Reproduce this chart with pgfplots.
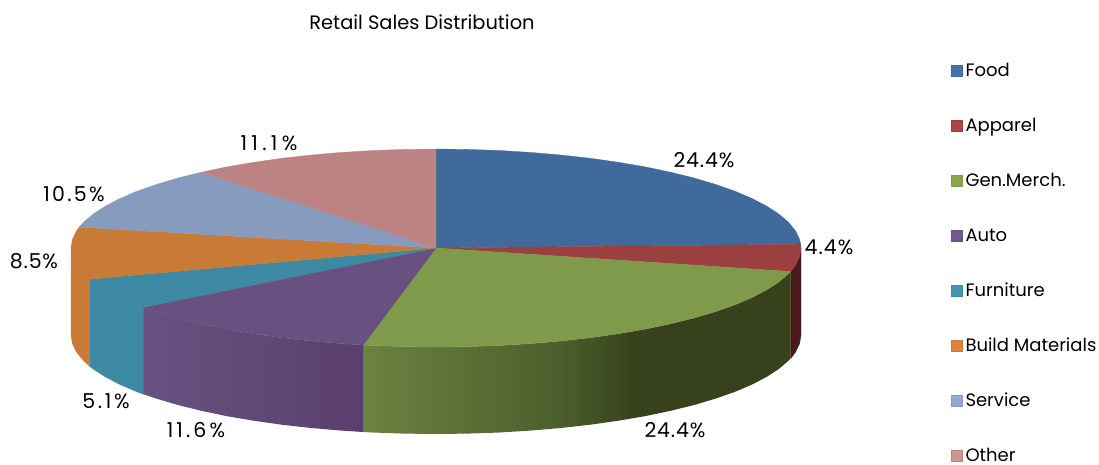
\documentclass[border=0pt]{standalone}
\usepackage{fontspec}
\setmainfont{Poppins}
\usepackage{pgfplots}
\pgfplotsset{compat=1.18}
\definecolor{cFood}{HTML}{3F6A9B}
\definecolor{cApparel}{HTML}{9B3F3F}
\definecolor{cGen}{HTML}{7F9A4A}
\definecolor{cAuto}{HTML}{685180}
\definecolor{cFurn}{HTML}{3D88A3}
\definecolor{cBuild}{HTML}{C97A36}
\definecolor{cServ}{HTML}{879BBF}
\definecolor{cOther}{HTML}{BD8383}
\definecolor{sApparel}{HTML}{4A1A1A}
\definecolor{sGenL}{HTML}{6B8240}
\definecolor{sGenA}{HTML}{5D7037}
\definecolor{sGenB}{HTML}{4D5F2D}
\definecolor{sGenR}{HTML}{37411C}
\definecolor{sAutoL}{HTML}{685180}
\definecolor{sAutoR}{HTML}{5A3F6E}
\definecolor{lFood}{HTML}{4672A8}
\definecolor{lApparel}{HTML}{AA4643}
\definecolor{lGen}{HTML}{89A54E}
\definecolor{lAuto}{HTML}{71588F}
\definecolor{lFurn}{HTML}{4198AF}
\definecolor{lBuild}{HTML}{DB843D}
\definecolor{lServ}{HTML}{93A9CF}
\definecolor{lOther}{HTML}{D19392}
% path box runs from 25bp to 75bp; gradient stops near x=640
\pgfdeclarehorizontalshading{genwall}{100bp}{color(0bp)=(sGenL); color(25bp)=(sGenL);
  color(36bp)=(sGenA); color(47.5bp)=(sGenB); color(57.4bp)=(sGenR); color(100bp)=(sGenR)}
\newcommand{\lab}{\fontsize{20.5}{22}\selectfont}
\newcommand{\ls}[2]{\addfontfeature{LetterSpace=#1}#2}
\begin{document}
\begin{tikzpicture}
\begin{axis}[
  width=1099pt, height=464pt, scale only axis,
  axis lines=none, clip=false,
  xmin=0, xmax=1099, ymin=0, ymax=464, y dir=reverse,
  legend style={at={(axis cs:951,62)}, anchor=north west, draw=none, fill=none,
    inner sep=0pt, row sep=35pt, font=\fontsize{18}{19}\selectfont,
    nodes={text height=12pt, text depth=4pt, anchor=west, inner xsep=3pt}},
  legend cell align=left,
  legend image code/.code={\fill[#1] (0pt,-3.5pt) rectangle (11pt,7.5pt);},
  every axis plot/.append style={line width=0.3pt},
]
% sides first, walls of the cylinder
\addplot[forget plot, draw=sApparel, fill=sApparel] coordinates {
  (801,248) (799.6,256.6) (795.5,265.2) (790.7,271.5)
  (790.7,358.5) (795.5,352.2) (799.6,343.6) (801,335) (801,248)};
\addplot[forget plot, draw=none, shading=genwall] coordinates {
  (363.2,345) (372.6,345.5) (404.2,346.6) (436,347) (467.8,346.6) (499.4,345.5) (530.5,343.6)
  (560.8,341) (590.3,337.7) (618.5,333.7) (645.4,329.1) (670.6,323.8) (694.1,318) (715.6,311.6)
  (735,304.8) (752.1,297.5) (766.8,289.8) (779,281.9) (788.6,273.6) (790.7,271.5)
  (790.7,358.5) (788.6,360.6) (779,368.9) (766.8,376.8) (752.1,384.5) (735,391.8) (715.6,398.6)
  (694.1,405) (670.6,410.8) (645.4,416.1) (618.5,420.7) (590.3,424.7) (560.8,428) (530.5,430.6)
  (499.4,432.5) (467.8,433.6) (436,434) (404.2,433.6) (372.6,432.5) (363.2,432) (363.2,345)};
\addplot[forget plot, draw=none, left color=sAutoL, right color=sAutoR] coordinates {
  (143.3,307.2) (156.4,311.6) (177.9,318) (201.4,323.8) (226.6,329.1) (253.5,333.7) (281.7,337.7)
  (311.2,341) (341.5,343.6) (363.2,345)
  (363.2,432) (341.5,430.6) (311.2,428) (281.7,424.7) (253.5,420.7) (226.6,416.1) (201.4,410.8)
  (177.9,405) (156.4,398.6) (143.3,394.2) (143.3,307.2)};
\addplot[forget plot, draw=cFurn, fill=cFurn] coordinates {
  (89.6,279.2) (93,281.9) (105.2,289.8) (119.9,297.5) (137,304.8) (143.3,307.2)
  (143.3,394.2) (137,391.8) (119.9,384.5) (105.2,376.8) (93,368.9) (89.6,366.2) (89.6,279.2)};
\addplot[forget plot, draw=cBuild, fill=cBuild] coordinates {
  (71,248) (72.4,256.6) (76.5,265.2) (83.4,273.6) (89.6,279.2)
  (89.6,366.2) (83.4,360.6) (76.5,352.2) (72.4,343.6) (71,335) (71,248)};
% top face, one polygon per slice
\addplot[draw=cFood, fill=cFood, legend image post style={fill=lFood}] coordinates {
  (436,248) (436,149) (467.8,149.4) (499.4,150.5) (530.5,152.4) (560.8,155) (590.3,158.3) (618.5,162.3)
  (645.4,166.9) (670.6,172.2) (694.1,178) (715.6,184.4) (735,191.2) (752.1,198.5) (766.8,206.2)
  (779,214.1) (788.6,222.4) (795.5,230.8) (799.6,239.4) (800.7,244.2) (436,248)};
\addlegendentry{Food}
\addplot[draw=cApparel, fill=cApparel, legend image post style={fill=lApparel}] coordinates {
  (436,248) (800.7,244.2) (801,248) (799.6,256.6) (795.5,265.2) (790.7,271.5) (436,248)};
\addlegendentry{Apparel}
\addplot[draw=cGen, fill=cGen, legend image post style={fill=lGen}] coordinates {
  (436,248) (790.7,271.5) (788.6,273.6) (779,281.9) (766.8,289.8) (752.1,297.5) (735,304.8) (715.6,311.6)
  (694.1,318) (670.6,323.8) (645.4,329.1) (618.5,333.7) (590.3,337.7) (560.8,341) (530.5,343.6)
  (499.4,345.5) (467.8,346.6) (436,347) (404.2,346.6) (372.6,345.5) (363.2,345) (436,248)};
\addlegendentry{Gen.Merch.}
\addplot[draw=cAuto, fill=cAuto, legend image post style={fill=lAuto}] coordinates {
  (436,248) (363.2,345) (341.5,343.6) (311.2,341) (281.7,337.7) (253.5,333.7) (226.6,329.1) (201.4,323.8)
  (177.9,318) (156.4,311.6) (143.3,307.2) (436,248)};
\addlegendentry{Auto}
\addplot[draw=cFurn, fill=cFurn, legend image post style={fill=lFurn}] coordinates {
  (436,248) (143.3,307.2) (137,304.8) (119.9,297.5) (105.2,289.8) (93,281.9) (89.6,279.2) (436,248)};
\addlegendentry{Furniture}
\addplot[draw=cBuild, fill=cBuild, legend image post style={fill=lBuild}] coordinates {
  (436,248) (89.6,279.2) (83.4,273.6) (76.5,265.2) (72.4,256.6) (71,248) (72.4,239.4) (76.5,230.8)
  (79.2,227.1) (436,248)};
\addlegendentry{Build Materials}
\addplot[draw=cServ, fill=cServ, legend image post style={fill=lServ}] coordinates {
  (436,248) (79.2,227.1) (83.4,222.4) (93,214.1) (105.2,206.2) (119.9,198.5) (137,191.2) (156.4,184.4)
  (177.9,178) (201.4,172.2) (436,248)};
\addlegendentry{Service}
\addplot[draw=cOther, fill=cOther, legend image post style={fill=lOther}] coordinates {
  (436,248) (201.4,172.2) (226.6,166.9) (253.5,162.3) (281.7,158.3) (311.2,155) (341.5,152.4)
  (372.6,150.5) (404.2,149.4) (436,149) (436,248)};
\addlegendentry{Other}
% title and percentage labels
\node[font=\fontsize{19.4}{21}\selectfont] at (axis cs:422,22) {Retail Sales Distribution};
\node[font=\lab] at (axis cs:704,160) {\ls{4}{24.4\%}};
\node[font=\lab] at (axis cs:829,247) {\ls{5}{4.4\%}};
\node[font=\lab] at (axis cs:675,430) {\ls{4}{24.4\%}};
\node[font=\lab] at (axis cs:196,430) {\ls{15}{11.6\%}};
\node[font=\lab] at (axis cs:106,401) {\ls{13}{5.1\%}};
\node[font=\lab] at (axis cs:34,261) {\ls{4}{8.5\%}};
\node[font=\lab] at (axis cs:74,194) {\ls{11}{10.5\%}};
\node[font=\lab] at (axis cs:269,143) {\ls{21}{11.1\%}};
\end{axis}
\pgfresetboundingbox
\useasboundingbox (0,0) rectangle (1099pt,464pt);
\end{tikzpicture}
\end{document}
